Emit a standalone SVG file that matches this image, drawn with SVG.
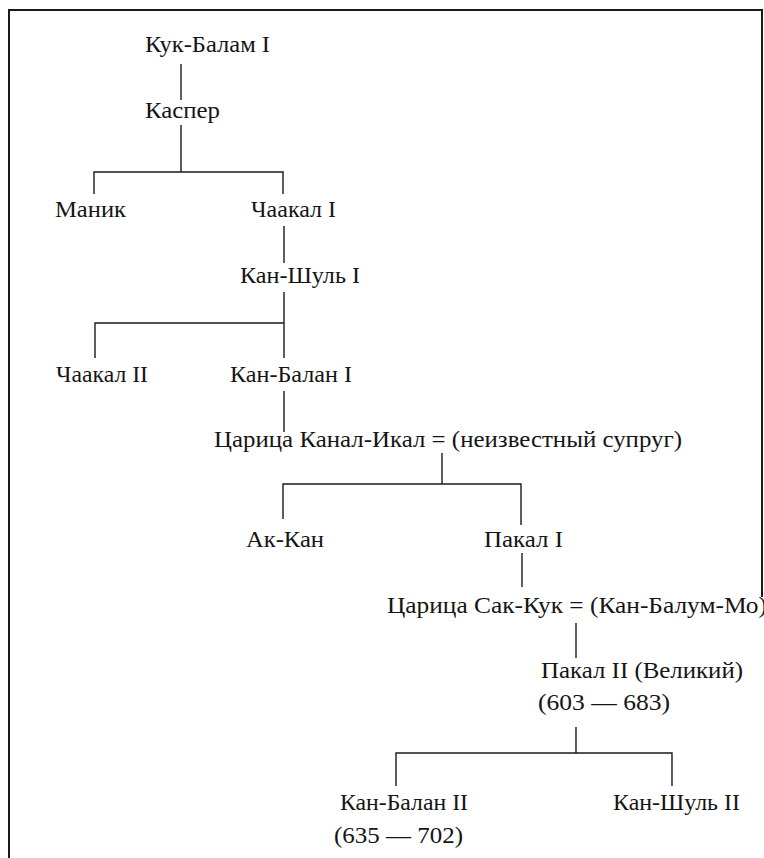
<svg xmlns="http://www.w3.org/2000/svg" width="764" height="858" viewBox="0 0 764 858">
<style>
.t{font-family:"Liberation Serif","DejaVu Serif",serif;font-size:23px;fill:#151515}
.c{stroke:#1a1a1a;stroke-width:1.4;fill:none}
.f{stroke:#1a1a1a;stroke-width:2;fill:none}
</style>
<rect width="764" height="858" fill="#ffffff"/>
<g id="frame">
<path class="f" d="M9 858 V10 H762 V597"/>
</g>
<g id="connectors">
<path class="c" d="M181 64 V100"/>
<path class="c" d="M181 125 V172 M94 194 V172 H283 V194"/>
<path class="c" d="M284 226 V263"/>
<path class="c" d="M284 292 V323 M95 358 V323 H284 V358"/>
<path class="c" d="M284 391 V432"/>
<path class="c" d="M442 453 V484 M283 519 V484 H521 V525"/>
<path class="c" d="M522 553 V587"/>
<path class="c" d="M576 623 V658"/>
<path class="c" d="M576 727 V753 M396 786 V753 H672 V786"/>
</g>
<g id="kuk-balam-1"><text class="t" x="145" y="52" textLength="125" lengthAdjust="spacingAndGlyphs">Кук-Балам I</text></g>
<g id="kasper"><text class="t" x="145" y="118" textLength="75" lengthAdjust="spacingAndGlyphs">Каспер</text></g>
<g id="manik"><text class="t" x="55" y="217" textLength="71" lengthAdjust="spacingAndGlyphs">Маник</text></g>
<g id="chaakal-1"><text class="t" x="251" y="217" textLength="85" lengthAdjust="spacingAndGlyphs">Чаакал I</text></g>
<g id="kan-shul-1"><text class="t" x="240" y="283" textLength="120" lengthAdjust="spacingAndGlyphs">Кан-Шуль I</text></g>
<g id="chaakal-2"><text class="t" x="56" y="382" textLength="92" lengthAdjust="spacingAndGlyphs">Чаакал II</text></g>
<g id="kan-balan-1"><text class="t" x="230" y="382" textLength="122" lengthAdjust="spacingAndGlyphs">Кан-Балан I</text></g>
<g id="kanal-ikal"><text class="t" x="214" y="447" textLength="468" lengthAdjust="spacingAndGlyphs">Царица Канал-Икал = (неизвестный супруг)</text></g>
<g id="ak-kan"><text class="t" x="246" y="547" textLength="78" lengthAdjust="spacingAndGlyphs">Ак-Кан</text></g>
<g id="pakal-1"><text class="t" x="484" y="547" textLength="79" lengthAdjust="spacingAndGlyphs">Пакал I</text></g>
<g id="sak-kuk"><text class="t" x="387" y="613" textLength="380" lengthAdjust="spacingAndGlyphs">Царица Сак-Кук = (Кан-Балум-Мо)</text></g>
<g id="pakal-2">
<text class="t" x="541" y="678" textLength="202" lengthAdjust="spacingAndGlyphs">Пакал II (Великий)</text>
<text class="t" x="538" y="710" textLength="132" lengthAdjust="spacingAndGlyphs">(603 — 683)</text>
</g>
<g id="kan-balan-2">
<text class="t" x="340" y="810" textLength="128" lengthAdjust="spacingAndGlyphs">Кан-Балан II</text>
<text class="t" x="334" y="843" textLength="129" lengthAdjust="spacingAndGlyphs">(635 — 702)</text>
</g>
<g id="kan-shul-2"><text class="t" x="613" y="810" textLength="127" lengthAdjust="spacingAndGlyphs">Кан-Шуль II</text></g>
</svg>
